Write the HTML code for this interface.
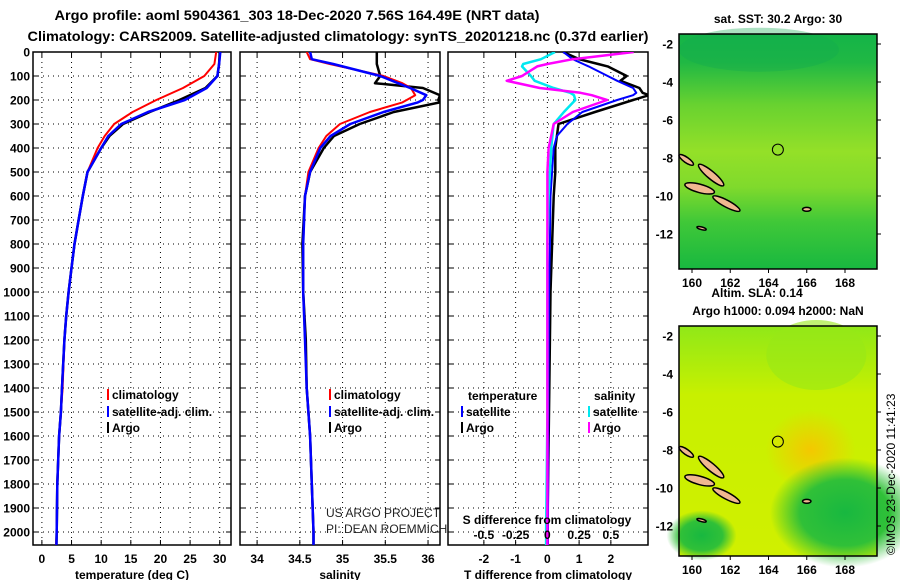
<!DOCTYPE html>
<html><head><meta charset="utf-8"><style>
body{margin:0;background:#fff;}
svg{display:block;font-family:"Liberation Sans",sans-serif;}
</style></head><body>
<svg id="c" width="900" height="580" xmlns="http://www.w3.org/2000/svg">
<defs>
<linearGradient id="sstg" x1="0" y1="0" x2="0" y2="1">
<stop offset="0" stop-color="#14b448"/><stop offset="0.12" stop-color="#20b844"/><stop offset="0.3" stop-color="#68d230"/><stop offset="0.5" stop-color="#94e028"/><stop offset="0.65" stop-color="#80da2c"/><stop offset="0.8" stop-color="#40c838"/><stop offset="1" stop-color="#18b840"/>
</linearGradient>
<linearGradient id="slag" x1="0" y1="0" x2="0" y2="1">
<stop offset="0" stop-color="#90e818"/><stop offset="0.3" stop-color="#c8f000"/><stop offset="1" stop-color="#d0f000"/>
</linearGradient>
<radialGradient id="orange" cx="0.5" cy="0.5" r="0.5"><stop offset="0" stop-color="#f4c800"/><stop offset="1" stop-color="#f4c800" stop-opacity="0"/></radialGradient>
<radialGradient id="grn" cx="0.5" cy="0.5" r="0.5"><stop offset="0" stop-color="#18b840"/><stop offset="0.6" stop-color="#30c038"/><stop offset="1" stop-color="#30c038" stop-opacity="0"/></radialGradient>
</defs>
<text x="297" y="20" text-anchor="middle" font-size="14" font-weight="bold" textLength="485" lengthAdjust="spacingAndGlyphs">Argo profile: aoml 5904361_303 18-Dec-2020 7.56S 164.49E (NRT data)</text>
<text x="338" y="41" text-anchor="middle" font-size="14" font-weight="bold" textLength="621" lengthAdjust="spacingAndGlyphs">Climatology: CARS2009. Satellite-adjusted climatology: synTS_20201218.nc (0.37d earlier)</text>
<g id="plots"></g>
<g id="maps"></g>
</svg>
<script>
// depth axis
const depthTicks=[0,100,200,300,400,500,600,700,800,900,1000,1100,1200,1300,1400,1500,1600,1700,1800,1900,2000];
// temperature profiles
const tDepth=[0,50,100,150,200,250,300,350,400,500,600,700,800,900,1000,1100,1200,1400,1500,1600,1700,1800,1900,2000,2060];
const tArgo=[30.0,29.9,29.6,27.6,23.2,18.2,13.7,11.4,10.0,7.7,6.9,6.2,5.5,5.0,4.5,4.1,3.8,3.4,3.2,2.9,2.75,2.6,2.55,2.5,2.45];
const tSat=[30.1,29.9,29.6,27.8,24.1,17.9,13.4,11.2,10.0,7.7,6.9,6.2,5.5,5.0,4.5,4.1,3.8,3.4,3.2,2.9,2.75,2.6,2.55,2.5,2.45];
const tClim=[29.4,29.1,27.4,23.8,19.3,15.3,12.2,10.6,9.4,7.7,6.9,6.2,5.5,5.0,4.5,4.1,3.8,3.5,3.2,2.9,2.75,2.6,2.55,2.5,2.4];
// salinity profiles
const sDepth=[0,30,50,100,130,150,180,200,210,250,300,350,400,500,600,800,1000,1200,1400,1600,1800,2000,2060];
const sArgo=[35.4,35.4,35.4,35.44,35.38,35.94,36.14,36.12,36.14,35.6,35.2,34.9,34.78,34.62,34.56,34.53,34.54,34.57,34.58,34.62,34.64,34.66,34.66];
const sSat=[34.62,34.64,34.89,35.44,35.65,35.79,35.98,35.94,35.88,35.48,35.09,34.86,34.74,34.62,34.56,34.54,34.54,34.56,34.58,34.62,34.64,34.66,34.66];
const sClim=[34.58,34.62,34.85,35.48,35.7,35.8,35.85,35.75,35.7,35.32,34.97,34.81,34.72,34.6,34.56,34.54,34.54,34.56,34.58,34.62,34.64,34.66,34.66];
// differences
const dDepth=[0,30,50,60,100,120,150,170,180,200,250,300,350,400,500,600,800,1000,1500,2000,2060];
const dTSat=[0.5,0.8,1.13,1.3,1.9,2.2,2.7,2.8,2.7,2.2,1.1,0.63,0.3,0.2,0.15,0.1,0.08,0.05,0.03,0.02,0.02];
const dTArgo=[0.5,1.0,1.6,1.9,2.5,2.3,2.9,3.0,3.2,2.7,1.5,0.35,0.3,0.25,0.25,0.2,0.15,0.1,0.05,0.0,0.0];
const dSSat=[0.06,-0.05,-0.19,-0.2,-0.13,-0.1,0.05,0.18,0.21,0.22,0.13,0.05,0.04,0.03,0.02,0.01,0.0,0.0,0.0,-0.01,-0.01];
const dSArgo=[0.68,0.2,0.0,-0.08,-0.2,-0.32,-0.06,0.26,0.35,0.47,0.2,0.05,0.03,0.01,0.0,0.0,0.0,0.0,0.0,0.0,0.0];
const tTicks=[0,5,10,15,20,25,30];
const sTicks=[34,34.5,35,35.5,36];
const sTickLabels=["34","34.5","35","35.5","36"];
const dTicks=[-2,-1,0,1,2];
const dsTicks=[-0.5,-0.25,0,0.25,0.5];
const dsTickLabels=["-0.5","-0.25","0","0.25","0.5"];

const NS="http://www.w3.org/2000/svg";
const root=document.getElementById('plots');
function mk(tag,attrs,parent){const e=document.createElementNS(NS,tag);for(const k in attrs)e.setAttribute(k,attrs[k]);(parent||root).appendChild(e);return e;}
const Y0=52,Y1=545;
const yScale=d=>Y0+d*0.24;
function lin(d0,d1,r0,r1){return v=>r0+(v-d0)/(d1-d0)*(r1-r0);}
const panels=[
 {x0:33,x1:231,sc:lin(-1.5,31.9,33,231),ticks:tTicks,labels:tTicks.map(String),title:"temperature (deg C)",name:"temperature-panel"},
 {x0:240,x1:440,sc:lin(33.8,36.14,240,440),ticks:sTicks,labels:sTickLabels,title:"salinity",name:"salinity-panel"},
 {x0:448,x1:648,sc:lin(-3.13,3.17,448,648),ticks:dTicks,labels:dTicks.map(String),title:"T difference from climatology",name:"difference-panel"}
];
panels.forEach((p,pi)=>{
 const g=mk('g',{});
 
 
 depthTicks.forEach(d=>{
  const l=mk('line',{x1:p.x0,x2:p.x1,y1:yScale(d),y2:yScale(d),stroke:'#000','stroke-dasharray':'1,4','stroke-width':1},g);
  
  
  mk('line',{x1:p.x0,x2:p.x0+5,y1:yScale(d),y2:yScale(d),stroke:'#000'},g);
  mk('line',{x1:p.x1-5,x2:p.x1,y1:yScale(d),y2:yScale(d),stroke:'#000'},g);
 });
 p.ticks.forEach((t,i)=>{
  const x=p.sc(t);
  const l=mk('line',{x1:x,x2:x,y1:Y0,y2:Y1,stroke:'#000','stroke-dasharray':'1,4'},g);
  
  
  mk('line',{x1:x,x2:x,y1:Y0,y2:Y0+5,stroke:'#000'},g);
  mk('line',{x1:x,x2:x,y1:Y1-5,y2:Y1,stroke:'#000'},g);
  const tx=mk('text',{x:x,y:563,'text-anchor':'middle','font-size':12,'font-weight':'bold'},g);
  tx.textContent=p.labels[i];
  
  
 });
 const fr=mk('rect',{x:p.x0,y:Y0,width:p.x1-p.x0,height:Y1-Y0,fill:'none',stroke:'#000','stroke-width':1.5},g);
 
 
 const tt=mk('text',{x:(p.x0+p.x1)/2,y:579,'text-anchor':'middle','font-size':12,'font-weight':'bold'},g);
 tt.textContent=p.title;
 
 
});
depthTicks.forEach(d=>{
 const t=mk('text',{x:30,y:yScale(d)+4.5,'text-anchor':'end','font-size':12,'font-weight':'bold'});
 t.textContent=d;
 
 
});
panels.forEach((p,i)=>{
 const cp=mk('clipPath',{id:'cp'+i});
 mk('rect',{x:p.x0,y:Y0,width:p.x1-p.x0,height:Y1-Y0},cp);
});
function line(pi,depths,vals,color,w,name,sc){
 const s=sc||panels[pi].sc;
 const pts=depths.map((d,i)=>s(vals[i]).toFixed(1)+','+yScale(d).toFixed(1)).join(' ');
 const l=mk('polyline',{points:pts,fill:'none',stroke:color,'stroke-width':w,'clip-path':'url(#cp'+pi+')','stroke-linejoin':'round'});
 
 
}
line(0,tDepth,tArgo,'#000',2.5,'temp-argo-line');
line(0,tDepth,tClim,'#f00',2,'temp-climatology-line');
line(0,tDepth,tSat,'#00f',2.5,'temp-satellite-line');
line(1,sDepth,sArgo,'#000',2.5,'sal-argo-line');
line(1,sDepth,sClim,'#f00',2,'sal-climatology-line');
line(1,sDepth,sSat,'#00f',2.5,'sal-satellite-line');
const dsScale=lin(-0.5,0.5,panels[2].sc(-2),panels[2].sc(2));
line(2,dDepth,dTArgo,'#000',2.5,'tdiff-argo-line');
line(2,dDepth,dTSat,'#00f',2,'tdiff-satellite-line');
line(2,dDepth,dSSat,'#00e8f0',2.5,'sdiff-satellite-line',dsScale);
line(2,dDepth,dSArgo,'#f0f',2.5,'sdiff-argo-line',dsScale);
dsTicks.forEach((t,i)=>{
 const tx=mk('text',{x:dsScale(t),y:539,'text-anchor':'middle','font-size':12,'font-weight':'bold'});
 tx.textContent=dsTickLabels[i];
 
 
});
const sdt=mk('text',{x:547,y:524,'text-anchor':'middle','font-size':12,'font-weight':'bold'});
sdt.textContent='S difference from climatology';


function leg(x,y,color,label,name){
 const g=mk('g',{});
 
 
 mk('rect',{x:x,y:y-10,width:2,height:11,fill:color},g);
 const t=mk('text',{x:x+5,y:y,'font-size':12,'font-weight':'bold'},g);
 t.textContent=label;
}
leg(107,399,'#f00','climatology','legend-temp-climatology');
leg(107,416,'#00f','satellite-adj. clim.','legend-temp-satellite');
leg(107,432,'#000','Argo','legend-temp-argo');
leg(329,399,'#f00','climatology','legend-sal-climatology');
leg(329,416,'#00f','satellite-adj. clim.','legend-sal-satellite');
leg(329,432,'#000','Argo','legend-sal-argo');
const lt=mk('text',{x:468,y:400,'font-size':12,'font-weight':'bold'});lt.textContent='temperature';


const ls=mk('text',{x:594,y:400,'font-size':12,'font-weight':'bold'});ls.textContent='salinity';


leg(461,416,'#00f','satellite','legend-tdiff-satellite');
leg(461,432,'#000','Argo','legend-tdiff-argo');
leg(588,416,'#00e8f0','satellite','legend-sdiff-satellite');
leg(588,432,'#f0f','Argo','legend-sdiff-argo');
const c1=mk('text',{x:326,y:517,'font-size':12,fill:'#222'});c1.textContent='US ARGO PROJECT';


const c2=mk('text',{x:326,y:533,'font-size':12,fill:'#222'});c2.textContent='PI: DEAN ROEMMICH';



// maps
const mapsG=document.getElementById('maps');
const lonTicks=[160,162,164,166,168];
const latTicks=[-2,-4,-6,-8,-10,-12];
const argoLon=164.49, argoLat=-7.56;
const mapDefs=[{y0:34,y1:269,latTop:44,title:'sat. SST: 30.2 Argo: 30',fill:'url(#sstg)',name:'sst-map'},
 {y0:326,y1:556,latTop:336,title:'Argo h1000: 0.094 h2000: NaN',fill:'url(#slag)',name:'sla-map'}];
const islands=[[161.0,-8.9,0.85,0.2,40],[160.4,-9.6,0.8,0.22,15],[161.8,-10.4,0.8,0.18,28],[159.7,-8.1,0.45,0.14,35],[166.0,-10.7,0.22,0.1,0],[160.5,-11.7,0.25,0.07,15]];
mapDefs.forEach((m,mi)=>{
 const g=document.createElementNS(NS,'g');mapsG.appendChild(g);
 
 
 const X0=679,X1=877;
 const lx=lin(160,168,692,845), ly=lin(-2,-12,m.latTop,m.latTop+190);
 mk('rect',{x:X0,y:m.y0,width:X1-X0,height:m.y1-m.y0,fill:m.fill},g);
 if(mi===0){
  mk('ellipse',{cx:lx(163.5),cy:ly(-2.3),rx:80,ry:22,fill:'#10a850',opacity:0.35},g);
 } else {
  mk('ellipse',{cx:lx(166.2),cy:ly(-8),rx:45,ry:40,fill:'url(#orange)'},g);
  mk('ellipse',{cx:lx(168),cy:ly(-11.3),rx:75,ry:55,fill:'url(#grn)'},g);
  mk('ellipse',{cx:lx(160.5),cy:ly(-12.5),rx:35,ry:25,fill:'url(#grn)'},g);
  mk('ellipse',{cx:lx(166.5),cy:ly(-3),rx:50,ry:35,fill:'#98e818',opacity:0.6},g);
 }
 islands.forEach(s=>{
  mk('ellipse',{cx:lx(s[0]),cy:ly(s[1]),rx:s[2]*19.1,ry:s[3]*19,transform:`rotate(${s[4]} ${lx(s[0])} ${ly(s[1])})`,fill:'#f0b890',stroke:'#000','stroke-width':1.5},g);
 });
 const circ=mk('circle',{cx:lx(argoLon),cy:ly(argoLat),r:5.5,fill:'none',stroke:'#000','stroke-width':1},g);
 
 
 mk('rect',{x:X0,y:m.y0,width:X1-X0,height:m.y1-m.y0,fill:'none',stroke:'#000','stroke-width':1.5},g);
 lonTicks.forEach(t=>{
  mk('line',{x1:lx(t),x2:lx(t),y1:m.y1,y2:m.y1+4,stroke:'#000'},g);
  const tx=mk('text',{x:lx(t),y:m.y1+18,'text-anchor':'middle','font-size':12,'font-weight':'bold'},g);
  tx.textContent=t;
  
  
 });
 latTicks.forEach(t=>{
  mk('line',{x1:X1,x2:X1+4,y1:ly(t),y2:ly(t),stroke:'#000'},g);
  const tx=mk('text',{x:673,y:ly(t)+4.5,'text-anchor':'end','font-size':12,'font-weight':'bold'},g);
  tx.textContent=t;
  
  
 });
 const tt=mk('text',{x:778,y:m.y0-11,'text-anchor':'middle','font-size':12,'font-weight':'bold'},g);
 tt.textContent=m.title;
 
 
});
const alt=mk('text',{x:757,y:297,'text-anchor':'middle','font-size':12,'font-weight':'bold'},mapsG);
alt.textContent='Altim. SLA: 0.14';


const ims=mk('text',{x:0,y:0,'font-size':12,transform:'translate(895,555) rotate(-90)'},mapsG);
ims.textContent='©IMOS 23-Dec-2020 11:41:23';


</script>
</body></html>
